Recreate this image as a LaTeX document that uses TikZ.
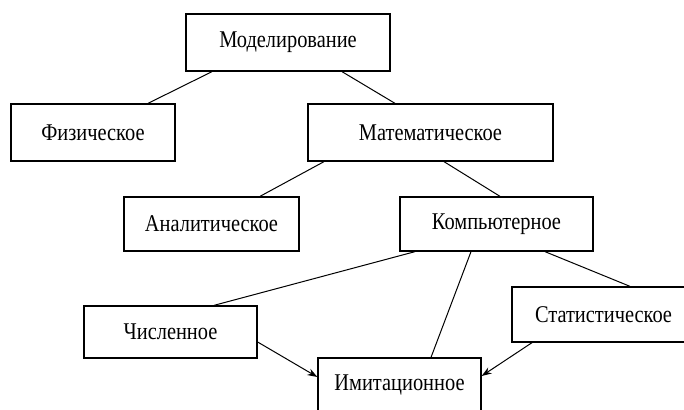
\documentclass[tikz,border=0pt]{standalone}
\usepackage{fontspec}
\setmainfont{Liberation Serif}[FakeStretch=0.85]
\usepackage{tikz}
\usetikzlibrary{arrows.meta}

\tikzset{
    vid/.style={draw, line width=1.3pt, inner sep=0pt, minimum height=57pt,
        font=\fontsize{24}{24}\selectfont},
    svyaz/.style={line width=1pt},
    strelka/.style={line width=1pt, -{Stealth[length=10pt,width=7pt]}}
}

\begin{document}
\begin{tikzpicture}[x=1pt, y=-1pt]
\clip (0,0) rectangle (684,409);
\fill[white] (0,0) rectangle (684,409);

% Blocks
\node[vid, minimum width=204pt] (model) at (288,42.5){Моделирование};
\node[vid, minimum width=164pt] (fiz) at (93,132.5){Физическое};
\node[vid, minimum width=245pt] (mat) at (430.5,132.5){Математическое};
\node[vid, minimum width=175pt, minimum height=54pt] (anal) at (211.5,224){Аналитическое};
\node[vid, minimum width=193pt, minimum height=54pt] (komp) at (496.5,224){Компьютерное};
\node[vid, minimum width=173pt, minimum height=52pt] (chisl) at (170.5,332){Численное};
\node[vid, minimum width=183pt, minimum height=55pt] (stat) at (603.5,314.5){Статистическое};
\node[vid, minimum width=163pt, minimum height=54pt] (imit) at (399.5,385){Имитационное};

% Links
 \draw[svyaz]([xshift=-76]model.south)--([xshift=55]fiz.north);
 \draw[svyaz]([xshift=54]model.south)--([xshift=-35.5]mat.north);
 \draw[svyaz]([xshift=-106.5]mat.south)--([xshift=48.5]anal.north);
 \draw[svyaz]([xshift=13.5]mat.south)--([xshift=3.5]komp.north);
 \draw[svyaz]([xshift=-81.5]komp.south)--([xshift=43.5]chisl.north);
 \draw[svyaz]([xshift=-25.5]komp.south)--([xshift=31.5]imit.north);
 \draw[svyaz]([xshift=48.5]komp.south)--([xshift=26.5]stat.north);
 \draw[strelka]([yshift=-10]chisl.east)--([yshift=8]imit.west);
 \draw[strelka]([xshift=-71.5]stat.south)--([yshift=9]imit.east);

\end{tikzpicture}
\end{document}
